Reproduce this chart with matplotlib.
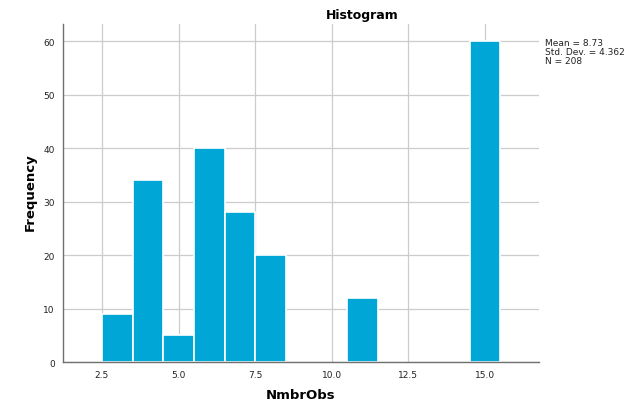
import matplotlib
matplotlib.use("Agg")
import matplotlib.pyplot as plt

# Frequency table for NmbrObs (bin centres and counts)
bin_centres = [3, 4, 5, 6, 7, 8, 11, 15]
counts = [9, 34, 5, 40, 28, 20, 12, 60]
bin_width = 1.0

x_ticks = [2.5, 5.0, 7.5, 10.0, 12.5, 15.0]
y_ticks = [0, 10, 20, 30, 40, 50, 60]

stats_lines = ["Mean = 8.73", "Std. Dev. = 4.362", "N = 208"]

bar_color = "#00A6D6"
grid_color = "#CCCCCC"
axis_color = "#707070"
text_color = "#222222"

fig = plt.figure(figsize=(6.25, 4.06), dpi=100)
ax = fig.add_axes([0.1008, 0.1059, 0.7616, 0.8325])

ax.bar(bin_centres, counts, width=bin_width, color=bar_color,
       edgecolor="white", linewidth=1.2, zorder=3)

ax.set_xlim(1.23, 16.76)
ax.set_ylim(0, 63.2)
ax.set_xticks(x_ticks)
ax.set_xticklabels([f"{t:.1f}" for t in x_ticks])
ax.set_yticks(y_ticks)
ax.grid(True, color=grid_color, linewidth=0.9, zorder=0)

for side in ("top", "right"):
    ax.spines[side].set_visible(False)
for side in ("left", "bottom"):
    ax.spines[side].set_color(axis_color)
    ax.spines[side].set_linewidth(1.0)
    ax.spines[side].set_zorder(4)

ax.tick_params(axis="both", length=0, labelsize=6.5, labelcolor=text_color, pad=6)

fig.text(0.4816, 0.025, "NmbrObs", ha="center", va="center",
         fontsize=9.5, fontweight="bold", color="black")
fig.text(0.048, 0.527, "Frequency", ha="center", va="center", rotation=90,
         fontsize=9.5, fontweight="bold", color="black")
fig.text(0.58, 0.963, "Histogram", ha="center", va="center",
         fontsize=9, fontweight="bold", color="black")

fig.text(0.872, 0.905, "\n".join(stats_lines), ha="left", va="top",
         fontsize=6.5, color=text_color, linespacing=1.0)

fig.savefig("out.png", dpi=100, facecolor="white")
